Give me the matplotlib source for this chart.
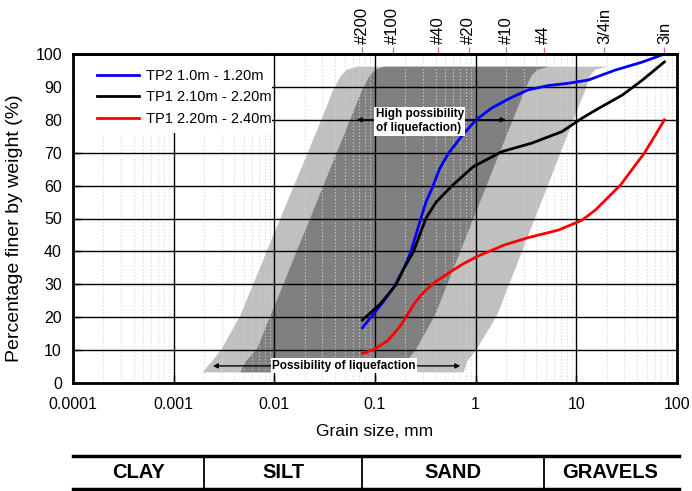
import numpy as np
import matplotlib
matplotlib.use("Agg")
import matplotlib.pyplot as plt
from matplotlib.ticker import NullLocator, LogLocator
from matplotlib.patches import Rectangle

plt.rcParams['font.family'] = ['Liberation Sans', 'DejaVu Sans']

# ---------------- data ----------------
tp2_size = [0.075, 0.098, 0.123, 0.155, 0.195, 0.227, 0.255, 0.286, 0.321, 0.375, 0.436, 0.537,
            0.72, 1.0, 1.43, 2.17, 3.31, 5.25, 8.32, 13.2, 24.3, 44.7, 75]
tp2_pct = [16.8, 21.2, 25.0, 29.3, 35.0, 39.9, 45.0, 50.1, 55.0, 59.7, 65.0, 69.8,
           74.9, 79.9, 83.5, 86.5, 89.1, 90.4, 91.1, 92.1, 95.1, 97.5, 100]

tp1a_size = [0.075, 0.114, 0.161, 0.195, 0.241, 0.321, 0.405, 0.571, 0.94, 1.81, 3.6, 7.2,
             11.4, 16.7, 28.6, 45, 75]
tp1a_pct = [19.1, 24.2, 29.8, 35.0, 39.9, 50.1, 55.0, 59.7, 65.7, 70.3, 72.9, 76.4,
            80.5, 83.5, 87.5, 92.0, 97.6]

tp1b_size = [0.075, 0.095, 0.114, 0.135, 0.155, 0.18, 0.205, 0.25, 0.309, 0.4, 0.53, 0.75,
             1.06, 1.95, 3.34, 6.67, 11.4, 15.5, 20, 27.5, 36, 47.2, 60, 75]
tp1b_pct = [9.0, 10.0, 11.5, 13.0, 15.1, 17.5, 20.3, 24.5, 27.8, 30.8, 33.3, 36.2,
            38.6, 42.0, 44.2, 46.5, 49.5, 52.6, 56.0, 60.2, 65.0, 69.8, 75.0, 80.0]

series_labels = ["TP2 1.0m - 1.20m", "TP1 2.10m - 2.20m", "TP1 2.20m - 2.40m"]
series_colors = ["#0000ff", "#000000", "#ff0000"]

band_pct = [3.4, 6.5, 10.6, 20.7, 30.8, 41, 51, 59.3, 69.3, 79.4, 89.7, 93.6, 95.4, 96.3]
possible_left = [0.00192, 0.00234, 0.00298, 0.00454, 0.00622, 0.00852, 0.01167, 0.0151, 0.0207,
                 0.0283, 0.0386, 0.0455, 0.0520, 0.0660]
possible_right = [0.753, 0.807, 1.02, 1.61, 2.17, 2.92, 3.93, 5.01, 6.73, 9.06, 12.3, 13.6, 15.2, 20.3]
high_left = [0.00454, 0.00509, 0.00667, 0.00908, 0.0124, 0.0169, 0.0230, 0.0296, 0.0402, 0.0547,
             0.0748, 0.0880, 0.100, 0.122]
high_right = [0.181, 0.203, 0.255, 0.389, 0.527, 0.714, 0.964, 1.236, 1.667, 2.26, 3.09, 3.55,
              4.10, 5.30]

sieve_sizes = [0.075, 0.15, 0.425, 0.85, 2.0, 4.75, 19.0, 75.0]
sieve_labels = ["#200", "#100", "#40", "#20", "#10", "#4", "3/4in", "3in"]

x_ticks = [0.0001, 0.001, 0.01, 0.1, 1, 10, 100]
x_tick_labels = ["0.0001", "0.001", "0.01", "0.1", "1", "10", "100"]

soil_bounds = [0.0001, 0.002, 0.075, 4.75, 100]
soil_labels = ["CLAY", "SILT", "SAND", "GRAVELS"]

# ---------------- figure ----------------
fig = plt.figure(figsize=(6.92, 4.91), dpi=100)
ax = fig.add_axes([73/692, 1-383/491, (677-73)/692, (383-54)/491])

ax.set_xscale('log')
ax.set_xlim(0.0001, 100)
ax.set_ylim(0, 100)

ax.fill_betweenx(band_pct, possible_left, possible_right, color='#c0c0c0', lw=0, zorder=1)
ax.fill_betweenx(band_pct, high_left, high_right, color='#808080', lw=0, zorder=1.2)

ax.set_axisbelow(False)
ax.grid(which='major', color='black', lw=1.0)
ax.xaxis.set_minor_locator(LogLocator(base=10, subs=np.arange(2, 10)))
ax.grid(which='minor', axis='x', color='#d4d4d4', ls=(0, (1, 2)), lw=0.8)

for xs, ys, lab, col in zip([tp2_size, tp1a_size, tp1b_size], [tp2_pct, tp1a_pct, tp1b_pct],
                            series_labels, series_colors):
    ax.plot(xs, ys, color=col, lw=2, label=lab, zorder=4, solid_joinstyle='round')

ax.set_xticks(x_ticks)
ax.set_xticklabels(x_tick_labels)
ax.set_yticks(np.arange(0, 101, 10))
ax.tick_params(axis='both', which='major', direction='in', length=6, width=1, labelsize=11.5)
ax.tick_params(axis='x', which='major', pad=10)
ax.tick_params(axis='y', which='major', pad=8)
ax.tick_params(axis='x', which='minor', length=0)
for s in ax.spines.values():
    s.set_linewidth(2)
    s.set_zorder(8)

ax.set_xlabel("Grain size, mm", fontsize=12.5)
ax.xaxis.set_label_coords(0.5, -0.125)
ax.set_ylabel("Percentage finer by weight (%)", fontsize=14)
ax.yaxis.set_label_coords(-0.082, 0.47)

# arrows and notes
ax.annotate('', xy=(0.0617, 80), xytext=(2.12, 80),
            arrowprops=dict(arrowstyle='<|-|>', color='black', lw=1, mutation_scale=7), zorder=5)
ax.text(0.102, 79.6, "High possibility\nof liquefaction)", fontsize=8.5, fontweight='bold',
        ha='left', va='center', bbox=dict(facecolor='white', edgecolor='none', pad=1.0),
        zorder=6, linespacing=1.25)
ax.annotate('', xy=(0.0023, 5.2), xytext=(0.75, 5.2),
            arrowprops=dict(arrowstyle='<|-|>', color='black', lw=1, mutation_scale=7), zorder=5)
ax.text(0.049, 5.2, "Possibility of liquefaction", fontsize=8.5, fontweight='bold',
        ha='center', va='center', bbox=dict(facecolor='white', edgecolor='none', pad=1.0), zorder=6)

# legend on a white block
ax.add_patch(Rectangle((0.004, 0.76), 0.325, 0.235, transform=ax.transAxes,
                       facecolor='white', edgecolor='none', zorder=9))
leg = ax.legend(loc='upper left', bbox_to_anchor=(0.040, 0.954), frameon=False, fontsize=10.5,
                handlelength=2.9, handletextpad=0.45, borderaxespad=0, borderpad=0,
                labelspacing=0.5)
leg.set_zorder(10)

# top sieve axis
sec = ax.secondary_xaxis('top')
sec.set_xticks(sieve_sizes)
sec.set_xticklabels(sieve_labels)
sec.xaxis.set_minor_locator(NullLocator())
sec.tick_params(axis='x', direction='out', length=5, width=1, color='#d070c0',
                labelcolor='black', labelsize=12, labelrotation=90, pad=2)
sec.spines['top'].set_linewidth(2)

# soil classification table
tab = fig.add_axes([73/692, 1-489/491, (679-73)/692, (489-456)/491])
tab.set_xscale('log')
tab.set_xlim(0.0001, 100 * 10**(2/604*6))
tab.set_ylim(0, 1)
tab.set_xticks([])
tab.set_yticks([])
tab.xaxis.set_minor_locator(NullLocator())
for side in ['left', 'right']:
    tab.spines[side].set_visible(False)
for side in ['top', 'bottom']:
    tab.spines[side].set_linewidth(2.5)
for b in soil_bounds[1:-1]:
    tab.axvline(b, color='black', lw=1.3)
for i, lab in enumerate(soil_labels):
    xc = np.sqrt(soil_bounds[i] * soil_bounds[i+1])
    tab.text(xc, 0.5, lab, ha='center', va='center', fontsize=14.5, fontweight='bold')

fig.savefig("out.png", dpi=100)
